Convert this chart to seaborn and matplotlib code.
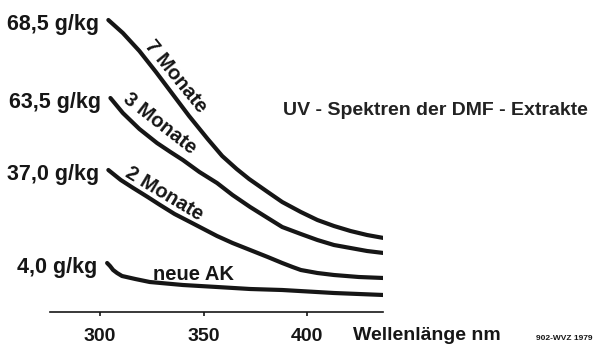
import matplotlib
matplotlib.use("Agg")
import matplotlib.pyplot as plt
import seaborn as sns
import pandas as pd

# Wellenlaenge (nm) und relative Extinktion
nm_7 = [304, 311, 319, 327, 335, 343, 352, 359, 366, 372, 381, 388, 397, 405, 413, 421, 429, 437]
ext_7 = [2.92, 2.79, 2.61, 2.40, 2.18, 1.96, 1.73, 1.56, 1.43, 1.33, 1.20, 1.10, 1.00, 0.92,
         0.86, 0.81, 0.77, 0.74]

nm_3 = [305, 311, 319, 327.5, 334, 340, 348, 356.5, 364, 372.5, 381, 388, 397, 405, 413, 421, 429, 437]
ext_3 = [2.14, 1.99, 1.83, 1.69, 1.60, 1.52, 1.40, 1.29, 1.17, 1.05, 0.94, 0.85, 0.78, 0.72,
         0.67, 0.64, 0.61, 0.59]

nm_2 = [304, 310, 316, 323, 329, 336, 343.5, 350, 356.5, 364, 372.5, 381, 388, 393, 397, 405,
        413, 425, 437]
ext_2 = [1.42, 1.32, 1.24, 1.15, 1.07, 0.98, 0.90, 0.83, 0.76, 0.69, 0.62, 0.55, 0.49, 0.45,
         0.42, 0.39, 0.37, 0.35, 0.34]

nm_neu = [303.4, 304.8, 306.3, 308.2, 310.6, 317, 324, 340, 356.5, 372.5, 388, 413, 437]
ext_neu = [0.49, 0.46, 0.42, 0.39, 0.36, 0.33, 0.30, 0.27, 0.25, 0.23, 0.22, 0.19, 0.17]

series = [
    ("7 Monate", "68,5 g/kg", nm_7, ext_7),
    ("3 Monate", "63,5 g/kg", nm_3, ext_3),
    ("2 Monate", "37,0 g/kg", nm_2, ext_2),
    ("neue AK", "4,0 g/kg", nm_neu, ext_neu),
]

# position / rotation of the curve labels (data coords)
label_pos = {
    "7 Monate": (336.4, 2.36, -51),
    "3 Monate": (328.6, 1.88, -38),
    "2 Monate": (331.1, 1.18, -31),
    "neue AK": (344.9, 0.37, 0),
}

xticks = [300, 350, 400]

sns.set_theme(style="white")
plt.rcParams["font.family"] = ["Liberation Sans", "DejaVu Sans"]

ink = "#161616"
fig = plt.figure(figsize=(5.96, 3.45), dpi=100)
ax = fig.add_axes([50 / 596, 33 / 345, 333 / 596, 312 / 345])

for name, conc, xs, ys in series:
    df = pd.DataFrame({"nm": xs, "E": ys})
    sns.lineplot(data=df, x="nm", y="E", ax=ax, color=ink, lw=3,
                 sort=False, solid_capstyle="round", solid_joinstyle="round")
    ax.annotate(conc, (xs[0], ys[0]), xytext=(-7, -7), textcoords="offset points",
                ha="right", va="baseline", fontsize=15.5, fontweight="bold",
                color=ink, annotation_clip=False)
    lx, ly, rot = label_pos[name]
    ax.text(lx, ly, name, rotation=rot, rotation_mode="anchor", ha="center",
            va="center", fontsize=14.5, fontweight="bold", color=ink)

ax.set_xlim(275.8, 436.7)
ax.set_ylim(0, 3.12)
for s in ["top", "right", "left"]:
    ax.spines[s].set_visible(False)
ax.spines["bottom"].set_color(ink)
ax.spines["bottom"].set_linewidth(1.2)
ax.set_yticks([])
ax.set_xticks(xticks)
ax.set_xticklabels([str(t) for t in xticks], fontsize=14, fontweight="bold", color=ink)
ax.tick_params(axis="x", direction="out", length=3, width=1.2, color=ink, pad=8.5,
               bottom=True)
ax.set_xlabel("")
ax.set_ylabel("")

fig.text(353 / 596, 1 - 340 / 345, "Wellenlänge nm", fontsize=14, fontweight="bold",
         color=ink, ha="left", va="baseline")
fig.text(593 / 596, 1 - 340 / 345, "902-WVZ 1979", fontsize=6, fontweight="bold",
         color=ink, ha="right", va="baseline")
fig.text(283 / 596, 1 - 115 / 345, "UV - Spektren der DMF - Extrakte", fontsize=14,
         fontweight="bold", color="#222222", ha="left", va="baseline")

fig.savefig("out.png", dpi=100)
